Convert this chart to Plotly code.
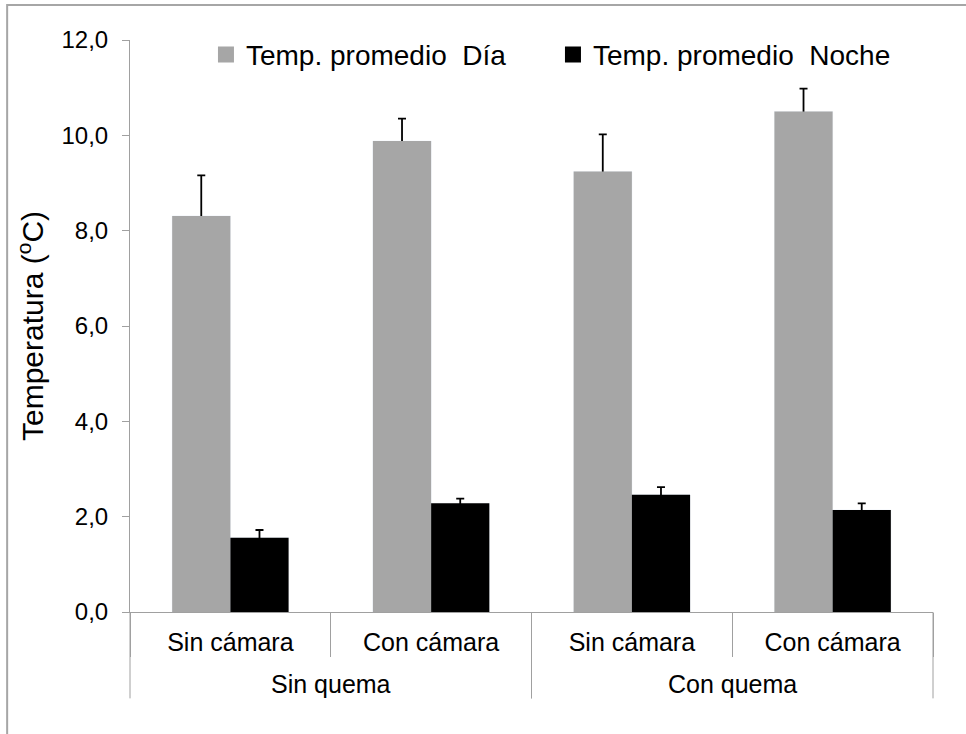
import plotly.graph_objects as go

# Treatment groups (outer level) and chamber condition (inner level)
groups = ["Sin quema", "Sin quema", "Con quema", "Con quema"]
conditions = ["Sin cámara", "Con cámara", "Sin cámara", "Con cámara"]

# Mean temperatures (°C) and upper error values
temp_dia = [8.31, 9.88, 9.24, 10.50]
err_dia = [0.85, 0.47, 0.78, 0.48]
temp_noche = [1.56, 2.28, 2.46, 2.14]
err_noche = [0.16, 0.10, 0.16, 0.14]

y_ticks = [0, 2, 4, 6, 8, 10, 12]

name_dia = "Temp. promedio\u00a0 Día"
name_noche = "Temp. promedio\u00a0 Noche"
color_dia = "#A6A6A6"
color_noche = "#000000"

FONT = "Liberation Sans, Arial, sans-serif"
AXIS_GRAY = "#A0A0A0"

n = len(conditions)
xpos = list(range(n))
boundaries = [i - 0.5 for i in range(n + 1)]

# outer group spans (first index, last index) in order of appearance
group_names = []
for g in groups:
    if g not in group_names:
        group_names.append(g)
group_span = {g: (groups.index(g), n - 1 - groups[::-1].index(g)) for g in group_names}

err_style = dict(type="data", symmetric=False, color="black", thickness=1.8, width=4)

fig = go.Figure()
# whiskers run from the base up to mean + error; the opaque bars drawn
# afterwards hide everything below the bar top, leaving only the upper part
fig.add_trace(go.Bar(x=xpos, y=temp_dia, offsetgroup="dia", showlegend=False,
                     marker=dict(color="rgba(0,0,0,0)"), hoverinfo="skip",
                     error_y=dict(array=err_dia, arrayminus=temp_dia, **err_style)))
fig.add_trace(go.Bar(x=xpos, y=temp_noche, offsetgroup="noche", showlegend=False,
                     marker=dict(color="rgba(0,0,0,0)"), hoverinfo="skip",
                     error_y=dict(array=err_noche, arrayminus=temp_noche, **err_style)))
fig.add_trace(go.Bar(x=xpos, y=temp_dia, offsetgroup="dia", name=name_dia,
                     showlegend=False, marker=dict(color=color_dia, line=dict(width=0))))
fig.add_trace(go.Bar(x=xpos, y=temp_noche, offsetgroup="noche", name=name_noche,
                     showlegend=False, marker=dict(color=color_noche, line=dict(width=0))))

# legend entries with square swatches
for nm, col in [(name_dia, color_dia), (name_noche, color_noche)]:
    fig.add_trace(go.Scatter(x=[None], y=[None], mode="markers", name=nm,
                             marker=dict(symbol="square", size=16, color=col)))

# dividers between the outer groups, reaching below the group labels
divider_shapes = []
for g in group_names:
    lo, hi = group_span[g]
    for b in (lo - 0.5, hi + 0.5):
        divider_shapes.append(dict(type="line", xref="paper", yref="paper",
                                   x0=(b + 0.5) / n, x1=(b + 0.5) / n, y0=0, y1=-0.151,
                                   line=dict(color=AXIS_GRAY, width=1)))

border = dict(type="rect", xref="paper", yref="paper",
              x0=-0.153, x1=1.3, y0=-0.6, y1=1.061,
              line=dict(color="#A6A6A6", width=2), layer="below")

group_labels = [dict(text=g, xref="x", x=sum(group_span[g]) / 2, yref="paper", y=0,
                     yshift=-72, yanchor="middle", xanchor="center", showarrow=False,
                     font=dict(size=25, family=FONT, color="black"))
                for g in group_names]

fig.update_layout(
    width=966, height=734,
    margin=dict(l=130, r=33, t=40, b=122),
    paper_bgcolor="white", plot_bgcolor="white",
    barmode="group", bargap=0.42, bargroupgap=0,
    separators=",.",
    font=dict(family=FONT, color="black"),
    showlegend=True,
    legend=dict(orientation="h", x=0.0946, xanchor="left", y=0.974, yanchor="middle",
                font=dict(size=28, family=FONT), bgcolor="rgba(0,0,0,0)",
                itemwidth=30, traceorder="normal", entrywidth=302),
    shapes=[border] + divider_shapes,
    annotations=group_labels,
)

fig.update_yaxes(
    range=[0, 12], tickvals=y_ticks, tickformat=".1f",
    showgrid=False, zeroline=False,
    showline=True, linecolor=AXIS_GRAY, linewidth=1,
    ticks="outside", ticklen=7, tickcolor=AXIS_GRAY,
    tickfont=dict(size=24, family=FONT),
    ticklabelstandoff=9,
    title=dict(text="Temperatura (<sup>o</sup>C)", font=dict(size=30, family=FONT),
               standoff=8),
)
fig.update_xaxes(
    range=[-0.5, n - 0.5], tickvals=xpos, ticktext=conditions,
    showgrid=False, zeroline=False, showline=True, linecolor=AXIS_GRAY, linewidth=1,
    ticks="", ticklabelstandoff=8,
    tickfont=dict(size=25, family=FONT),
    minor=dict(tickmode="array", tickvals=boundaries, ticks="outside",
               ticklen=44, tickcolor=AXIS_GRAY, tickwidth=1, showgrid=False),
)

fig.write_html("out.html")
